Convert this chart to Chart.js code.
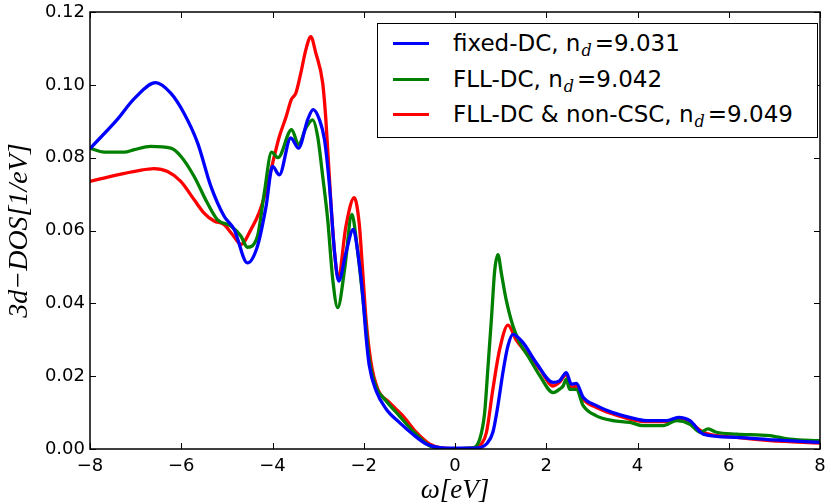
<!DOCTYPE html>
<html>
<head>
<meta charset="utf-8">
<script src="https://cdn.jsdelivr.net/npm/chart.js@4/dist/chart.umd.min.js"></script>
<style>
  html,body{margin:0;padding:0;background:#fff;}
  #wrap{position:relative;width:831px;height:504px;}
  canvas{display:block;}
  #legend{position:absolute;left:377px;top:23px;width:439px;height:113px;border:1.5px solid #000;background:#fff;
    font-family:"DejaVu Sans",sans-serif;font-size:23px;color:#000;}
  .row{position:absolute;left:0;height:30px;line-height:30px;white-space:nowrap;}
  .sw{position:absolute;left:15px;width:36px;height:3px;top:14px;}
  .tx{position:absolute;left:75px;top:0;}
  .tx sub{font-family:"DejaVu Serif",serif;font-style:italic;font-size:16px;vertical-align:-5px;line-height:0;margin-left:1px;margin-right:3px;}
</style>
</head>
<body>
<div id="wrap">
  <canvas id="c" width="831" height="504"></canvas>
  <div id="legend"></div>
</div>
<script>
// ---------------- data ----------------
const blueX = [-8, -7.4, -7.03, -6.56, -6.23, -5.94, -5.64, -5.35, -5.06, -4.84, -4.55, -4.33, -4.14, -4.0, -3.85, -3.6, -3.43, -3.23, -3.11, -2.97, -2.86, -2.75, -2.64, -2.55, -2.39, -2.23, -2.12, -2.02, -1.95, -1.88, -1.73, -1.51, -1.22, -0.93, -0.63, -0.34, 0.0, 0.5, 0.7, 0.83, 0.94, 1.05, 1.16, 1.27, 1.49, 1.78, 2.15, 2.29, 2.44, 2.55, 2.66, 2.81, 3.1, 3.46, 3.83, 4.19, 4.63, 4.9, 5.15, 5.44, 6.17, 7.0, 8.0];
const blueY = [0.0825, 0.0905, 0.0962, 0.1006, 0.0977, 0.0922, 0.0840, 0.0721, 0.0639, 0.0603, 0.0511, 0.0557, 0.0667, 0.0776, 0.0753, 0.0854, 0.0826, 0.0904, 0.0932, 0.0904, 0.0849, 0.0721, 0.0540, 0.0461, 0.0539, 0.0603, 0.0530, 0.0420, 0.0310, 0.0230, 0.0160, 0.0110, 0.0073, 0.0041, 0.0014, 0.0004, 0.0002, 0.0003, 0.0015, 0.0046, 0.0119, 0.0210, 0.0283, 0.0315, 0.0292, 0.0237, 0.0183, 0.0187, 0.0210, 0.0178, 0.0180, 0.0142, 0.0119, 0.0100, 0.0087, 0.0078, 0.0078, 0.0087, 0.0078, 0.0041, 0.0032, 0.0025, 0.0018];

const greenX = [-8, -7.69, -7.25, -7.03, -6.67, -6.23, -6.01, -5.72, -5.43, -5.21, -4.91, -4.69, -4.55, -4.33, -4.18, -4.02, -3.88, -3.58, -3.43, -3.27, -3.12, -3.01, -2.9, -2.79, -2.68, -2.57, -2.42, -2.26, -2.15, -2.05, -1.95, -1.88, -1.73, -1.51, -1.22, -0.93, -0.56, -0.3, 0.0, 0.4, 0.55, 0.65, 0.72, 0.8, 0.87, 0.94, 1.02, 1.12, 1.27, 1.42, 1.64, 1.86, 2.15, 2.3, 2.37, 2.44, 2.51, 2.66, 2.81, 3.1, 3.46, 3.83, 4.12, 4.56, 4.86, 5.15, 5.37, 5.55, 5.73, 6.17, 6.9, 7.34, 8.0];
const greenY = [0.0826, 0.0815, 0.0815, 0.0822, 0.0831, 0.0826, 0.0804, 0.0749, 0.0676, 0.0630, 0.0612, 0.0584, 0.0554, 0.0584, 0.0703, 0.0815, 0.0800, 0.0877, 0.0836, 0.0881, 0.0904, 0.0858, 0.0749, 0.0630, 0.0466, 0.0388, 0.0493, 0.0644, 0.0560, 0.0450, 0.0330, 0.0245, 0.0170, 0.0132, 0.0091, 0.0050, 0.0009, 0.0002, 0.0001, 0.0003, 0.0030, 0.0100, 0.0220, 0.0360, 0.0490, 0.0534, 0.0480, 0.0411, 0.0338, 0.0292, 0.0247, 0.0201, 0.0155, 0.0165, 0.0173, 0.0192, 0.0164, 0.0164, 0.0119, 0.0091, 0.0078, 0.0073, 0.0064, 0.0064, 0.0078, 0.0068, 0.0046, 0.0055, 0.0046, 0.0041, 0.0037, 0.0027, 0.0023];

const redX = [-8, -7.4, -6.96, -6.6, -6.3, -6.01, -5.72, -5.5, -5.28, -5.06, -4.88, -4.69, -4.47, -4.29, -4.14, -3.96, -3.85, -3.7, -3.59, -3.49, -3.38, -3.27, -3.16, -3.05, -2.9, -2.83, -2.72, -2.64, -2.56, -2.39, -2.21, -2.1, -2.03, -1.95, -1.84, -1.69, -1.44, -1.14, -0.85, -0.56, -0.3, 0.0, 0.45, 0.58, 0.69, 0.83, 0.98, 1.16, 1.34, 1.56, 1.86, 2.15, 2.29, 2.44, 2.55, 2.66, 2.81, 3.1, 3.46, 3.83, 4.19, 4.63, 4.86, 5.15, 5.44, 6.17, 6.9, 8.0];
const redY = [0.0735, 0.0753, 0.0764, 0.0770, 0.0762, 0.0735, 0.0685, 0.0648, 0.0626, 0.0616, 0.0589, 0.0562, 0.0603, 0.0650, 0.0710, 0.0804, 0.0858, 0.0913, 0.0959, 0.0977, 0.1032, 0.1096, 0.1132, 0.1087, 0.1005, 0.0904, 0.0676, 0.0540, 0.0470, 0.0612, 0.0690, 0.0620, 0.0500, 0.0356, 0.0237, 0.0164, 0.0128, 0.0091, 0.0046, 0.0014, 0.0003, 0.0001, 0.0003, 0.0014, 0.0046, 0.0164, 0.0274, 0.0340, 0.0300, 0.0265, 0.0219, 0.0173, 0.0183, 0.0205, 0.0169, 0.0173, 0.0137, 0.0114, 0.0096, 0.0082, 0.0075, 0.0075, 0.0082, 0.0073, 0.0046, 0.0032, 0.0023, 0.0016];

const seriesLabels = ['fixed-DC, n', 'FLL-DC, n', 'FLL-DC & non-CSC, n'];
const seriesNd = ['9.031', '9.042', '9.049'];
const seriesColors = ['#0000ff', '#008000', '#ff0000'];
const xTicks = [-8, -6, -4, -2, 0, 2, 4, 6, 8];
const yTicks = [0.00, 0.02, 0.04, 0.06, 0.08, 0.10, 0.12];

// ---------------- chart ----------------
function pts(xs, ys){ return xs.map((x,i)=>({x:x, y:ys[i]})); }

const frameTicks = {
  id:'frameTicks',
  afterDraw(chart){
    const ctx = chart.ctx, a = chart.chartArea;
    const sx = chart.scales.x, sy = chart.scales.y;
    const L = 6;
    ctx.save();
    ctx.strokeStyle = '#000';
    ctx.lineWidth = 1;
    ctx.beginPath();
    xTicks.forEach(v=>{
      const p = Math.round(sx.getPixelForValue(v)) + 0.5;
      ctx.moveTo(p, a.bottom); ctx.lineTo(p, a.bottom - L);
      ctx.moveTo(p, a.top); ctx.lineTo(p, a.top + L);
    });
    yTicks.forEach(v=>{
      const p = Math.round(sy.getPixelForValue(v)) + 0.5;
      ctx.moveTo(a.left, p); ctx.lineTo(a.left + L, p);
      ctx.moveTo(a.right, p); ctx.lineTo(a.right - L, p);
    });
    ctx.stroke();
    ctx.lineWidth = 1.5;
    ctx.strokeRect(a.left, a.top, a.right - a.left, a.bottom - a.top);
    ctx.restore();
  }
};

const datasets = [
  {label: seriesLabels[0] + 'd=' + seriesNd[0], data: pts(blueX, blueY), borderColor: seriesColors[0]},
  {label: seriesLabels[1] + 'd=' + seriesNd[1], data: pts(greenX, greenY), borderColor: seriesColors[1]},
  {label: seriesLabels[2] + 'd=' + seriesNd[2], data: pts(redX, redY), borderColor: seriesColors[2]}
].map(d=>Object.assign(d, {borderWidth:3.3, pointRadius:0, fill:false, cubicInterpolationMode:'monotone', showLine:true}));

function zeroPad(s){ s.paddingTop = 0; s.paddingBottom = 0; s.paddingLeft = 0; s.paddingRight = 0; }

new Chart(document.getElementById('c'), {
  type: 'line',
  data: { datasets: datasets },
  options: {
    responsive: false,
    animation: false,
    devicePixelRatio: 1,
    layout: { padding: { top: 12, right: 11, left: 0, bottom: 0 } },
    plugins: { legend: { display: false }, tooltip: { enabled: false } },
    scales: {
      x: {
        type: 'linear', min: -8, max: 8,
        afterFit: s => { s.height = 55; zeroPad(s); },
        afterBuildTicks: s => { s.ticks = xTicks.map(v=>({value:v})); },
        grid: { drawOnChartArea: false, drawTicks: false },
        border: { display: false },
        ticks: { padding: 7, color: '#000', font: { family: 'DejaVu Sans', size: 18 },
                 callback: v => String(v).replace('-', '\u2212') },
        title: { display: true, text: 'ω[eV]', color: '#000', padding: 0,
                 font: { family: 'Liberation Serif', style: 'italic', size: 27, lineHeight: 1 } }
      },
      y: {
        type: 'linear', min: 0, max: 0.12,
        afterFit: s => { s.width = 90; zeroPad(s); },
        afterBuildTicks: s => { s.ticks = yTicks.map(v=>({value:v})); },
        grid: { drawOnChartArea: false, drawTicks: false },
        border: { display: false },
        ticks: { padding: 5, color: '#000', font: { family: 'DejaVu Sans', size: 18 },
                 callback: v => v.toFixed(2) },
        title: { display: true, text: '3d\u2212DOS[1/eV]', color: '#000', padding: { top: 6, bottom: 0 },
                 font: { family: 'Liberation Serif', style: 'italic', size: 28, lineHeight: 1 } }
      }
    }
  },
  plugins: [frameTicks]
});

// ---------------- legend (HTML text) ----------------
const leg = document.getElementById('legend');
const rowTops = [4, 40, 75];
seriesLabels.forEach((lab, i)=>{
  const row = document.createElement('div');
  row.className = 'row';
  row.style.top = rowTops[i] + 'px';
  row.style.width = '100%';
  const sw = document.createElement('div');
  sw.className = 'sw';
  sw.style.background = seriesColors[i];
  const tx = document.createElement('div');
  tx.className = 'tx';
  tx.appendChild(document.createTextNode(lab));
  const sub = document.createElement('sub');
  sub.textContent = 'd';
  tx.appendChild(sub);
  tx.appendChild(document.createTextNode('=' + seriesNd[i]));
  row.appendChild(sw);
  row.appendChild(tx);
  leg.appendChild(row);
});
</script>
</body>
</html>
